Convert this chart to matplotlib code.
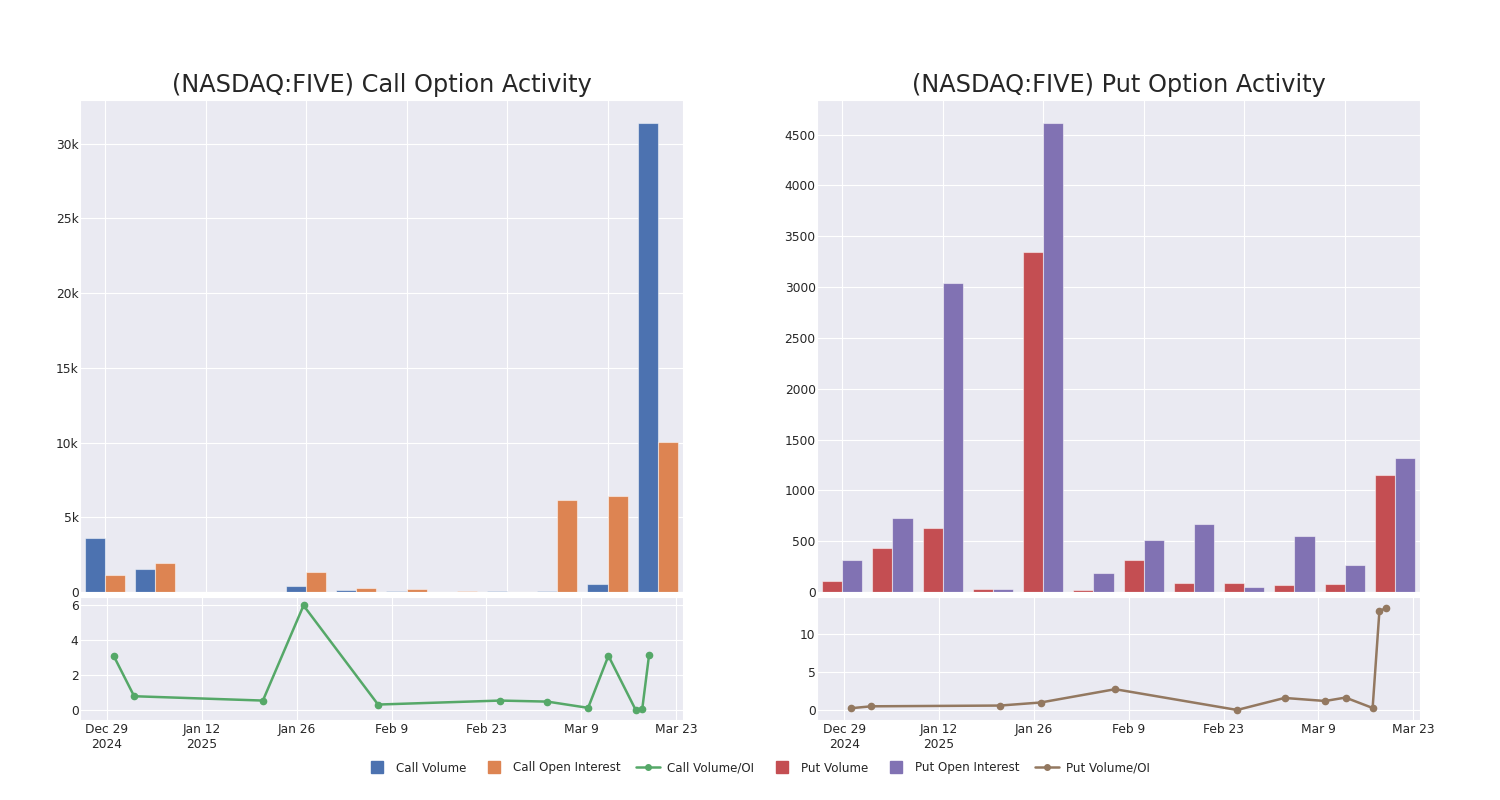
import pandas as pd
import matplotlib.pyplot as plt
import matplotlib.ticker as mticker
import seaborn as sns
from matplotlib.lines import Line2D

# weekly bar data (12 weeks)
call_volume = [3600, 1550, 30, 10, 400, 150, 80, 10, 40, 100, 520, 31350]
call_oi = [1150, 1950, 20, 15, 1350, 300, 180, 80, 20, 6150, 6420, 10050]
put_volume = [109, 435, 633, 30, 3343, 20, 316, 90, 90, 70, 80, 1147]
put_oi = [316, 732, 3036, 25, 4609, 188, 514, 673, 50, 554, 267, 1316]

# volume / open interest ratio by day
ratio_dates = ['2024-12-30', '2025-01-02', '2025-01-21', '2025-01-27', '2025-02-07', '2025-02-25',
               '2025-03-04', '2025-03-10', '2025-03-13', '2025-03-17', '2025-03-18', '2025-03-19']
call_ratio = [3.08, 0.77, 0.52, 6.0, 0.29, 0.52, 0.46, 0.1, 3.1, 0.0, 0.06, 3.15]
put_ratio = [0.25, 0.5, 0.6, 1.0, 2.75, 0.02, 1.6, 1.2, 1.65, 0.28, 13.0, 13.45]

date_ticks = ['2024-12-29', '2025-01-12', '2025-01-26', '2025-02-09', '2025-02-23', '2025-03-09', '2025-03-23']
date_labels = ['Dec 29\n2024', 'Jan 12\n2025', 'Jan 26', 'Feb 9', 'Feb 23', 'Mar 9', 'Mar 23']

sns.set_style('darkgrid')
pal = sns.color_palette('deep')
c_blue, c_orange, c_green, c_red, c_purple, c_brown = pal[0], pal[1], pal[2], pal[3], pal[4], pal[5]

dates = pd.to_datetime(ratio_dates)
xlim_dates = (pd.Timestamp('2024-12-25'), pd.Timestamp('2025-03-24'))

fig = plt.figure(figsize=(15, 8), dpi=100)

panels = [
    (0.0533, '(NASDAQ:FIVE) Call Option Activity', call_volume, call_oi, c_blue, c_orange,
     call_ratio, c_green, [0, 2, 4, 6], (-0.6, 6.5), None),
    (0.5447, '(NASDAQ:FIVE) Put Option Activity', put_volume, put_oi, c_red, c_purple,
     put_ratio, c_brown, [0, 5, 10], (-1.3, 14.9), 500),
]

for left, title, vol, oi, col_v, col_oi, ratio, col_r, rticks, rlim, ystep in panels:
    ax = fig.add_axes([left, 0.26, 0.402, 0.615])
    x = list(range(len(vol)))
    ax.bar([i - 0.2 for i in x], vol, width=0.4, color=col_v, edgecolor=(1, 1, 1, 0.5), linewidth=0.8)
    ax.bar([i + 0.2 for i in x], oi, width=0.4, color=col_oi, edgecolor=(1, 1, 1, 0.5), linewidth=0.8)
    ax.set_xlim(-0.5, len(vol) - 0.5)
    ax.set_xticks([0, 2, 4, 6, 8, 10])
    ax.set_xticklabels([])
    ax.tick_params(axis='x', length=0)
    ax.tick_params(axis='y', labelsize=8.8, pad=1, length=0)
    ax.set_title(title, fontsize=17.3)
    if ystep:
        ax.yaxis.set_major_locator(mticker.MultipleLocator(ystep))
    else:
        ax.yaxis.set_major_formatter(mticker.FuncFormatter(
            lambda v, p: '0' if v == 0 else '%dk' % (v / 1000)))

    bx = fig.add_axes([left, 0.1, 0.402, 0.154])
    bx.plot(dates, ratio, color=col_r, marker='o', markersize=4.5, linewidth=1.8)
    bx.set_xlim(xlim_dates)
    bx.set_xticks(pd.to_datetime(date_ticks))
    bx.set_xticklabels(date_labels)
    bx.set_yticks(rticks)
    bx.set_ylim(rlim)
    bx.tick_params(axis='y', labelsize=8.8, pad=1, length=0)
    bx.tick_params(axis='x', labelsize=8.8, pad=2.5, length=0)

handles = [
    Line2D([], [], color=c_blue, marker='s', linestyle='none', markersize=8),
    Line2D([], [], color=c_orange, marker='s', linestyle='none', markersize=8),
    Line2D([], [], color=c_green, marker='o', markersize=4, linewidth=1.8),
    Line2D([], [], color=c_red, marker='s', linestyle='none', markersize=8),
    Line2D([], [], color=c_purple, marker='s', linestyle='none', markersize=8),
    Line2D([], [], color=c_brown, marker='o', markersize=4, linewidth=1.8),
]
labels = ['Call Volume', 'Call Open Interest', 'Call Volume/OI', 'Put Volume', 'Put Open Interest', 'Put Volume/OI']
fig.legend(handles, labels, loc='center', bbox_to_anchor=(0.505, 0.04), ncol=6, frameon=False,
           fontsize=8.6, columnspacing=1.3, handletextpad=0.6)

plt.savefig('out.png', dpi=100)
